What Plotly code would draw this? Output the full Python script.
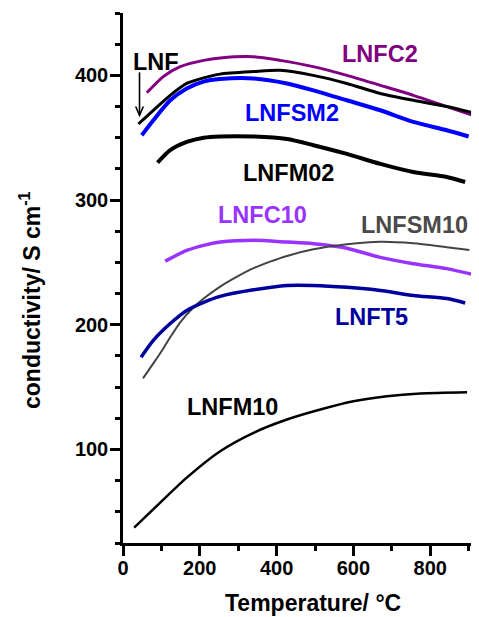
import plotly.graph_objects as go

# ---- data ----
lnfc2_x = [62, 105, 149, 210, 253, 339, 409, 495, 583, 670, 756, 843, 921]
lnfc2_y = [386, 399, 407, 412, 414, 415, 412, 407, 400, 392, 384, 375, 367]

lnf_x = [40, 79, 123, 166, 210, 253, 340, 409, 495, 583, 670, 756, 843, 912]
lnf_y = [361, 372, 384, 393.5, 398, 401, 403, 404, 400, 393.5, 385.5, 380, 375, 370]

lnfsm2_x = [49, 79, 123, 166, 210, 253, 340, 427, 496, 583, 670, 756, 843, 900]
lnfsm2_y = [352, 364, 380, 389.5, 395, 397, 397.5, 393.5, 388, 380, 372, 362.7, 356, 351]

lnfm02_x = [90, 123, 166, 210, 253, 340, 427, 496, 583, 670, 756, 843, 891]
lnfm02_y = [330, 340, 346.6, 350, 351, 351, 349, 344, 337, 329, 322.5, 318.5, 314.5]

lnfc10_x = [110, 166, 210, 253, 340, 427, 496, 583, 670, 756, 843, 922]
lnfc10_y = [251, 259.6, 263.7, 266.3, 267.7, 266.3, 265, 261.4, 254, 249, 245, 239.5]

lnfsm10_x = [52, 79, 105, 123, 149, 184, 210, 253, 297, 340, 383, 427, 496, 583, 670, 756, 843, 902]
lnfsm10_y = [157, 169, 181, 190, 202, 214, 221, 230.6, 238.6, 245.4, 250.6, 255.2, 260.5, 264.5, 266.6, 265.4, 262.2, 260]

lnft5_x = [47, 79, 123, 166, 210, 253, 340, 427, 496, 583, 670, 756, 843, 891]
lnft5_y = [174, 187.5, 201, 211.5, 218, 222.8, 228, 231.5, 231.5, 230, 227.5, 223.5, 221, 217.5]

lnfm10_x = [29, 97, 166, 253, 340, 427, 514, 600, 687, 774, 896]
lnfm10_y = [37.4, 57.4, 77.4, 98.6, 113.4, 124, 132, 138.6, 142.6, 144.8, 145.8]

x_tickvals = [0, 200, 400, 600, 800]
y_tickvals = [100, 200, 300, 400]

series = [
    ("LNFC2", lnfc2_x, lnfc2_y, "#800080", 3),
    ("LNF", lnf_x, lnf_y, "#000000", 3),
    ("LNFSM2", lnfsm2_x, lnfsm2_y, "#0000ff", 4),
    ("LNFM02", lnfm02_x, lnfm02_y, "#000000", 4),
    ("LNFC10", lnfc10_x, lnfc10_y, "#9933ff", 3.5),
    ("LNFSM10", lnfsm10_x, lnfsm10_y, "#444444", 2),
    ("LNFT5", lnft5_x, lnft5_y, "#00009c", 3.5),
    ("LNFM10", lnfm10_x, lnfm10_y, "#000000", 2.5),
]

FONT = "Arial, Liberation Sans, sans-serif"

fig = go.Figure()
for name, xs, ys, col, w in series:
    fig.add_trace(go.Scatter(x=xs, y=ys, mode="lines", name=name,
                             line=dict(color=col, width=w, shape="spline", smoothing=0.7),
                             showlegend=False))

labels = [
    ("LNFC2", 670, 417.4, "#800080"),
    ("LNFSM2", 441, 369.6, "#0000ff"),
    ("LNFM02", 431, 321.6, "#000000"),
    ("LNFC10", 362, 288, "#9933ff"),
    ("LNFSM10", 759, 280, "#4a4a4a"),
    ("LNFT5", 647, 206.4, "#00009c"),
    ("LNFM10", 286, 134.4, "#000000"),
    ("LNF", 85, 410.8, "#000000"),
]
anns = []
for t, x, y, c in labels:
    anns.append(dict(x=x, y=y, xref="x", yref="y", text=t, showarrow=False,
                     xanchor="center", yanchor="middle",
                     font=dict(family=FONT, size=23.5, color=c, weight="bold")))

# axis titles
anns.append(dict(x=(313 - 123) / 356, y=(543 - 603) / 530, xref="paper", yref="paper",
                 text="Temperature/ °C", showarrow=False, xanchor="center", yanchor="middle",
                 font=dict(family=FONT, size=23, color="#000000", weight="bold")))
anns.append(dict(x=(30 - 123) / 356, y=(543 - 300) / 530, xref="paper", yref="paper",
                 text="conductivity/ S cm<sup>-1</sup>", showarrow=False, textangle=-90,
                 xanchor="center", yanchor="middle",
                 font=dict(family=FONT, size=23, color="#000000", weight="bold")))

# arrow pointing at the LNF curve (shaft + open head)
arrow_x, arrow_tail, arrow_tip = 43, 402.4, 368
shapes = [
    dict(type="line", xref="x", yref="y", x0=arrow_x, x1=arrow_x, y0=arrow_tail, y1=arrow_tip,
         line=dict(color="#000000", width=1.6)),
    dict(type="path", xref="x", yref="y",
         path=f"M {arrow_x - 10},{arrow_tip + 7} L {arrow_x},{arrow_tip} L {arrow_x + 10},{arrow_tip + 7}",
         line=dict(color="#000000", width=1.6)),
]

axis_common = dict(showgrid=False, zeroline=False, showline=True, linecolor="#000000",
                   linewidth=2.5, ticks="outside", tickwidth=2.5, ticklen=10,
                   tickcolor="#000000",
                   tickfont=dict(family=FONT, size=20, color="#000000", weight="bold"))

# the page body adds an 8 px offset, so the figure is sized/margined to compensate
fig.update_layout(
    width=471, height=609,
    margin=dict(l=115, r=0, t=5, b=74),
    paper_bgcolor="white", plot_bgcolor="white",
    annotations=anns,
    shapes=shapes,
    xaxis=dict(range=[0, 927], tickvals=x_tickvals, ticklabelstandoff=-5,
               minor=dict(dtick=100, tick0=0, ticks="outside", ticklen=5, tickwidth=2.5,
                          tickcolor="#000000"),
               **axis_common),
    yaxis=dict(range=[25, 450], tickvals=y_tickvals, ticklabelstandoff=-2,
               minor=dict(dtick=25, tick0=0, ticks="outside", ticklen=5, tickwidth=2.5,
                          tickcolor="#000000"),
               **axis_common),
)

fig.write_html("out.html")
